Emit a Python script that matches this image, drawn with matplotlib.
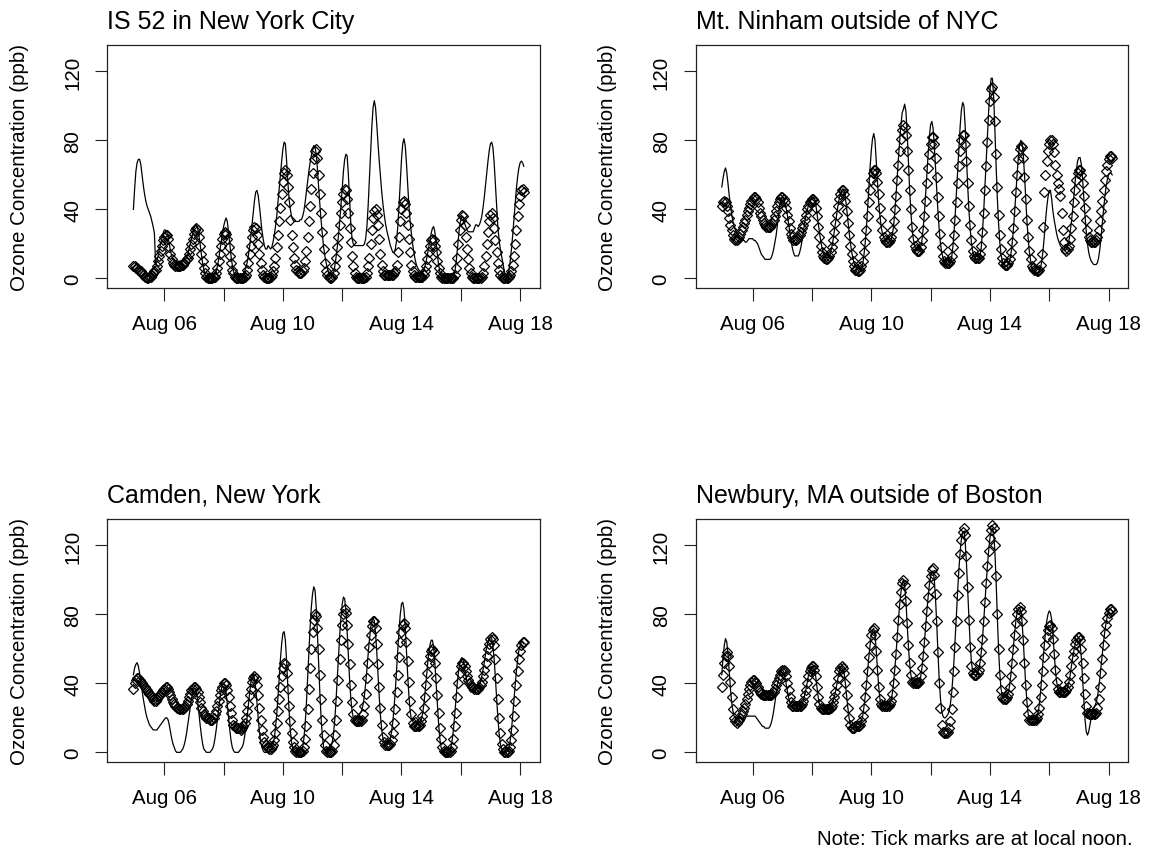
import numpy as np
import pandas as pd
import matplotlib
matplotlib.use("Agg")
import matplotlib.pyplot as plt

plt.rcParams['font.family'] = ['Liberation Sans', 'DejaVu Sans']

# ---------------- data (hourly, starting 2008-08-05 11:00) ----------------
start_time = "2008-08-05 11:00"

titles = ["IS 52 in New York City", "Mt. Ninham outside of NYC",
          "Camden, New York", "Newbury, MA outside of Boston"]

is52_obs = [
    7, 7, 6, 6, 5, 4, 4, 3, 2, 1, 1, 0, 0,
    1, 1, 2, 3, 4, 5, 7, 10, 13, 16, 19, 22, 24, 25, 25, 23, 18, 14, 11, 9, 8, 7, 7, 7,
    7, 7, 8, 8, 9, 10, 11, 12, 14, 17, 20, 23, 26, 28, 29, 28, 24, 19, 14, 10, 6, 3, 1, 0,
    0, 0, 0, 0, 1, 1, 3, 6, 10, 14, 19, 23, 26, 27, 26, 23, 18, 13, 9, 5, 3, 1, 0, 0,
    0, 0, 0, 0, 0, 1, 2, 5, 9, 14, 19, 24, 28, 30, 29, 25, 20, 14, 9, 5, 2, 1, 0, 0,
    0, 0, 1, 2, 4, 7, 12, 18, 25, 33, 41, 49, 56, 61, 63, 60, 53, 44, 34, 25, 18, 12, 8, 5,
    4, 3, 3, 3, 4, 6, 10, 16, 24, 33, 42, 52, 61, 69, 74, 75, 70, 60, 49, 38, 27, 17, 9, 4,
    2, 1, 0, 0, 1, 3, 7, 12, 18, 24, 31, 38, 44, 49, 52, 51, 46, 38, 29, 21, 13, 7, 3, 1,
    0, 0, 0, 0, 0, 0, 0, 1, 3, 7, 12, 20, 28, 35, 39, 40, 37, 31, 23, 14, 8, 4, 2, 2,
    2, 2, 2, 2, 2, 2, 3, 4, 8, 15, 24, 33, 40, 44, 45, 43, 38, 31, 23, 15, 8, 4, 2, 1,
    1, 1, 1, 1, 1, 1, 2, 4, 7, 11, 15, 19, 22, 23, 22, 19, 15, 10, 6, 3, 1, 0, 0, 0,
    0, 0, 0, 0, 0, 0, 0, 2, 6, 12, 20, 28, 34, 37, 36, 31, 24, 17, 11, 6, 3, 1, 0, 0,
    0, 0, 0, 0, 0, 1, 3, 7, 13, 20, 27, 33, 37, 38, 35, 29, 22, 15, 9, 5, 2, 1, 0, 0,
    0, 0, 0, 1, 2, 4, 8, 13, 20, 28, 36, 43, 48, 51, 52, 50]

is52_mod = [
    40, 52, 62, 67, 69, 69, 66, 60, 54, 49, 45, 42, 40,
    38, 36, 33, 30, 26, 8, 10, 13, 17, 20, 23, 26, 28, 28, 27, 24, 20, 16, 13, 11, 10, 10, 10, 10,
    10, 10, 10, 10, 11, 11, 12, 14, 17, 20, 23, 26, 29, 31, 31, 29, 25, 20, 14, 9, 5, 2, 1, 0,
    0, 0, 0, 0, 1, 2, 4, 7, 11, 16, 21, 26, 30, 33, 35, 33, 27, 20, 13, 8, 4, 2, 1, 1,
    1, 1, 1, 2, 3, 4, 6, 9, 13, 18, 24, 31, 38, 45, 50, 51, 48, 42, 35, 28, 23, 19, 17, 17,
    19, 18, 17, 18, 21, 25, 30, 36, 44, 52, 60, 68, 75, 79, 78, 68, 56, 46, 40, 36, 34, 33, 33, 33,
    33, 33, 34, 34, 36, 39, 44, 50, 56, 62, 67, 71, 75, 77, 76, 72, 63, 52, 42, 33, 25, 18, 13, 9,
    6, 3, 1, 0, 1, 3, 7, 12, 18, 25, 33, 42, 52, 62, 69, 72, 71, 60, 45, 31, 23, 20, 19, 19,
    19, 19, 19, 19, 19, 19, 20, 23, 30, 42, 57, 73, 88, 99, 103, 99, 89, 78, 68, 59, 50, 43, 37, 32,
    28, 25, 22, 19, 17, 15, 15, 17, 22, 30, 42, 56, 69, 78, 81, 77, 67, 54, 42, 33, 26, 20, 15, 11,
    8, 6, 5, 4, 4, 4, 5, 7, 10, 14, 18, 22, 26, 29, 30, 27, 21, 14, 8, 4, 2, 1, 0, 0,
    0, 0, 0, 0, 0, 0, 1, 3, 8, 15, 23, 30, 34, 36, 35, 32, 30, 28, 27, 27, 27, 27, 27, 29,
    31, 31, 30, 31, 33, 36, 41, 47, 54, 61, 68, 74, 78, 79, 76, 67, 55, 42, 30, 22, 17, 13, 9, 5,
    2, 0, 1, 5, 10, 17, 25, 34, 43, 52, 59, 64, 67, 68, 67, 65]

ninham_obs = [
    42, 44, 45, 44, 42, 39, 35, 31, 28, 25, 23, 22, 22,
    23, 24, 26, 28, 30, 32, 34, 37, 39, 41, 43, 45, 46, 47, 47, 46, 44, 41, 38, 36, 34, 32, 31, 30,
    30, 30, 30, 31, 32, 34, 36, 39, 42, 44, 46, 47, 47, 46, 44, 41, 37, 33, 29, 26, 24, 22, 22, 22,
    23, 24, 25, 27, 29, 31, 34, 37, 40, 42, 44, 45, 46, 46, 45, 41, 36, 30, 24, 19, 15, 13, 12, 11,
    11, 12, 13, 15, 18, 22, 27, 32, 37, 42, 46, 49, 51, 51, 49, 45, 39, 32, 25, 19, 14, 10, 7, 5,
    5, 4, 4, 5, 7, 10, 15, 21, 28, 36, 44, 51, 57, 61, 63, 63, 61, 56, 49, 41, 34, 28, 24, 22,
    21, 21, 21, 22, 24, 28, 33, 40, 48, 57, 66, 74, 81, 86, 89, 88, 83, 74, 63, 51, 40, 30, 23, 19,
    17, 16, 16, 16, 18, 22, 28, 36, 45, 55, 64, 72, 78, 82, 82, 78, 70, 59, 47, 36, 26, 18, 13, 10,
    9, 9, 9, 9, 10, 13, 18, 25, 34, 44, 55, 65, 74, 80, 83, 83, 78, 68, 55, 42, 31, 22, 16, 13,
    12, 12, 12, 12, 14, 19, 27, 38, 51, 65, 79, 92, 103, 110, 111, 105, 91, 72, 53, 37, 25, 17, 12, 9,
    8, 8, 8, 9, 11, 15, 21, 29, 39, 50, 60, 69, 75, 77, 76, 70, 59, 46, 34, 24, 16, 11, 7, 6,
    5, 5, 4, 4, 5, 8, 14, 30, 50, 60, 68, 74, 78, 80, 80, 78, 73, 66, 60, 55, 52, 48, 38, 28,
    21, 17, 16, 17, 19, 23, 29, 36, 44, 51, 57, 61, 63, 63, 60, 55, 48, 41, 34, 28, 24, 22, 21, 21,
    21, 21, 22, 24, 28, 33, 39, 45, 51, 57, 62, 66, 69, 71, 71, 70]

ninham_mod = [
    53, 58, 62, 64, 61, 55, 48, 42, 37, 33, 30, 28, 26,
    25, 24, 23, 22, 22, 22, 21, 21, 22, 23, 23, 23, 23, 22, 22, 21, 20, 18, 16, 14, 13, 12, 11, 11,
    11, 11, 11, 12, 14, 17, 21, 25, 31, 37, 43, 46, 47, 46, 44, 41, 37, 32, 27, 22, 18, 15, 13, 13,
    13, 13, 15, 18, 22, 27, 32, 36, 39, 42, 44, 46, 47, 47, 46, 43, 38, 32, 27, 22, 18, 15, 13, 12,
    12, 12, 13, 15, 18, 22, 27, 32, 37, 42, 46, 49, 51, 52, 51, 47, 41, 34, 27, 21, 16, 12, 9, 7,
    6, 5, 4, 4, 5, 8, 13, 20, 29, 40, 52, 64, 74, 81, 84, 80, 68, 55, 44, 36, 30, 26, 24, 22,
    22, 21, 21, 21, 22, 25, 30, 38, 48, 59, 70, 80, 89, 96, 98, 101, 97, 85, 68, 52, 39, 29, 23, 19,
    17, 16, 16, 16, 18, 22, 29, 38, 49, 61, 72, 82, 89, 91, 87, 77, 64, 50, 38, 28, 20, 15, 12, 10,
    9, 8, 8, 8, 9, 12, 18, 27, 38, 51, 64, 77, 89, 98, 102, 100, 88, 71, 54, 40, 29, 21, 16, 13,
    12, 11, 11, 11, 13, 18, 27, 39, 53, 68, 83, 97, 109, 116, 116, 106, 87, 66, 47, 32, 21, 14, 10, 8,
    7, 7, 7, 8, 10, 14, 20, 28, 38, 49, 60, 70, 77, 80, 79, 72, 60, 46, 33, 23, 15, 10, 6, 4,
    4, 3, 3, 3, 4, 6, 10, 16, 24, 33, 41, 47, 51, 51, 46, 39, 34, 30, 26, 23, 21, 19, 18, 17,
    17, 16, 17, 19, 22, 27, 33, 40, 48, 56, 63, 68, 70, 70, 66, 58, 47, 36, 27, 20, 15, 12, 10, 9,
    8, 8, 8, 9, 12, 17, 24, 32, 40, 47, 53, 57, 60, 61, 61, 60]

camden_obs = [
    37, 40, 42, 43, 43, 42, 41, 40, 39, 38, 37, 36, 35,
    34, 33, 32, 31, 30, 30, 31, 32, 33, 34, 35, 36, 37, 38, 38, 37, 35, 33, 31, 29, 28, 27, 26, 26,
    25, 25, 25, 25, 26, 27, 28, 30, 32, 34, 36, 37, 38, 38, 37, 35, 32, 29, 26, 24, 22, 21, 20, 20,
    20, 19, 19, 19, 20, 22, 24, 27, 30, 33, 36, 38, 40, 40, 39, 36, 32, 27, 23, 19, 16, 15, 14, 14,
    14, 14, 13, 14, 15, 17, 20, 24, 28, 33, 37, 41, 43, 44, 43, 39, 33, 26, 19, 13, 9, 6, 4, 3,
    3, 2, 2, 3, 4, 7, 11, 17, 24, 31, 38, 44, 49, 52, 51, 46, 37, 27, 18, 11, 6, 3, 1, 0,
    0, 0, 0, 0, 1, 3, 8, 15, 25, 37, 49, 60, 70, 77, 80, 79, 72, 60, 45, 31, 19, 10, 4, 1,
    0, 0, 0, 0, 1, 4, 10, 19, 30, 42, 54, 65, 74, 80, 83, 81, 74, 63, 51, 39, 29, 22, 19, 18,
    18, 18, 18, 18, 19, 22, 27, 34, 43, 52, 61, 68, 73, 76, 76, 72, 63, 51, 38, 26, 16, 9, 6, 4,
    4, 4, 4, 5, 7, 11, 17, 25, 35, 45, 55, 64, 70, 74, 75, 72, 64, 53, 41, 30, 22, 17, 15, 15,
    15, 15, 15, 16, 18, 21, 26, 32, 39, 46, 52, 56, 59, 60, 58, 52, 43, 33, 23, 14, 8, 3, 1, 0,
    0, 0, 0, 0, 1, 3, 8, 15, 23, 32, 40, 46, 50, 52, 52, 50, 47, 44, 42, 40, 39, 38, 38, 37,
    37, 37, 37, 38, 39, 41, 44, 48, 52, 56, 60, 63, 66, 67, 66, 62, 54, 43, 31, 20, 11, 5, 2, 0,
    0, 0, 0, 1, 3, 7, 13, 21, 30, 39, 47, 54, 59, 62, 64, 64]

camden_mod = [
    45, 49, 51, 52, 50, 46, 41, 36, 31, 27, 23, 20, 18,
    16, 15, 14, 13, 13, 13, 13, 14, 15, 16, 17, 18, 19, 20, 20, 19, 16, 12, 8, 5, 3, 1, 0, 0,
    0, 0, 1, 2, 4, 7, 11, 16, 21, 26, 31, 35, 37, 37, 35, 30, 23, 16, 10, 5, 2, 1, 0, 0,
    0, 0, 1, 2, 4, 8, 13, 19, 25, 31, 36, 39, 40, 39, 35, 28, 20, 13, 7, 3, 1, 0, 0, 0,
    0, 1, 2, 3, 5, 9, 14, 20, 27, 34, 40, 44, 45, 43, 37, 29, 20, 12, 6, 3, 1, 0, 0, 0,
    0, 0, 1, 2, 4, 8, 14, 22, 32, 43, 54, 63, 69, 70, 65, 53, 38, 24, 13, 6, 2, 0, 0, 0,
    0, 0, 0, 1, 3, 8, 16, 28, 43, 58, 72, 84, 92, 96, 94, 84, 68, 50, 33, 19, 9, 3, 1, 0,
    0, 0, 1, 3, 6, 11, 19, 30, 43, 56, 68, 78, 86, 90, 89, 82, 70, 56, 42, 31, 24, 20, 19, 19,
    20, 21, 22, 23, 25, 28, 33, 40, 48, 57, 65, 72, 76, 78, 76, 69, 58, 45, 32, 21, 13, 8, 6, 5,
    5, 5, 6, 8, 12, 18, 26, 36, 48, 60, 71, 80, 86, 87, 83, 73, 59, 45, 33, 24, 19, 18, 19, 20,
    20, 19, 18, 18, 19, 22, 27, 34, 42, 50, 57, 62, 65, 65, 61, 52, 40, 28, 17, 8, 3, 1, 0, 0,
    0, 0, 0, 1, 3, 7, 13, 21, 30, 39, 46, 51, 54, 55, 53, 49, 45, 41, 38, 36, 35, 35, 35, 36,
    36, 37, 38, 39, 41, 44, 48, 52, 57, 61, 64, 66, 67, 66, 62, 54, 43, 31, 20, 11, 5, 2, 0, 0,
    0, 0, 1, 3, 7, 13, 21, 30, 39, 47, 54, 59, 62, 64, 64, 63]

newbury_obs = [
    38, 45, 52, 56, 58, 56, 50, 41, 32, 25, 20, 18, 17,
    18, 19, 20, 22, 24, 26, 28, 31, 34, 37, 39, 41, 42, 42, 41, 40, 38, 36, 35, 34, 33, 33, 33, 33,
    33, 33, 33, 33, 34, 35, 37, 39, 41, 43, 45, 47, 48, 48, 47, 44, 40, 36, 32, 29, 27, 27, 27, 27,
    27, 27, 27, 27, 28, 30, 33, 36, 40, 44, 47, 49, 50, 50, 48, 44, 38, 32, 28, 26, 25, 25, 25, 25,
    25, 25, 25, 26, 27, 29, 32, 35, 39, 43, 47, 49, 50, 49, 46, 40, 33, 26, 20, 16, 14, 14, 14, 15,
    15, 15, 15, 16, 18, 21, 26, 32, 39, 47, 55, 62, 68, 71, 72, 68, 59, 48, 38, 31, 28, 27, 27, 27,
    27, 27, 27, 28, 30, 34, 40, 48, 57, 67, 77, 86, 93, 98, 100, 97, 88, 75, 62, 52, 45, 41, 40, 40,
    40, 40, 40, 41, 44, 49, 56, 64, 73, 82, 90, 97, 102, 106, 107, 103, 92, 76, 58, 40, 26, 16, 12, 11,
    11, 11, 12, 14, 18, 25, 35, 47, 61, 76, 91, 104, 115, 123, 128, 130, 126, 114, 96, 77, 61, 50, 46, 45,
    45, 45, 46, 48, 52, 58, 66, 76, 87, 98, 108, 117, 124, 129, 132, 130, 120, 102, 80, 60, 45, 36, 32, 31,
    31, 31, 32, 34, 38, 44, 52, 60, 68, 75, 80, 83, 84, 82, 76, 65, 52, 39, 29, 22, 19, 19, 19, 19,
    19, 19, 20, 22, 26, 32, 39, 47, 55, 62, 67, 71, 73, 74, 72, 66, 57, 48, 41, 37, 35, 35, 35, 35,
    35, 35, 36, 38, 41, 45, 50, 55, 59, 63, 65, 67, 67, 65, 60, 52, 43, 34, 27, 23, 22, 22, 22, 22,
    22, 22, 23, 26, 31, 38, 46, 54, 62, 69, 74, 78, 81, 83, 83, 82]

newbury_mod = [
    45, 55, 62, 66, 64, 57, 47, 37, 29, 24, 21, 20, 20,
    20, 20, 20, 20, 20, 20, 20, 21, 21, 21, 21, 21, 21, 21, 21, 20, 19, 18, 17, 16, 15, 15, 14, 14,
    14, 14, 15, 17, 20, 24, 29, 34, 39, 43, 46, 48, 48, 47, 44, 40, 36, 32, 29, 27, 27, 27, 27, 27,
    27, 27, 27, 27, 28, 30, 33, 36, 40, 44, 47, 49, 50, 50, 48, 44, 38, 32, 28, 26, 25, 25, 25, 25,
    25, 25, 25, 26, 27, 29, 32, 35, 39, 43, 47, 49, 50, 49, 46, 40, 33, 26, 20, 16, 14, 14, 14, 15,
    15, 15, 15, 16, 18, 21, 26, 32, 39, 47, 55, 62, 68, 71, 72, 68, 59, 48, 38, 31, 28, 27, 27, 27,
    27, 27, 27, 28, 30, 34, 40, 48, 57, 67, 77, 86, 93, 98, 100, 97, 88, 75, 62, 52, 45, 41, 40, 40,
    40, 40, 40, 41, 44, 49, 56, 64, 73, 82, 90, 97, 102, 105, 105, 100, 89, 74, 57, 42, 31, 24, 21, 20,
    20, 21, 22, 24, 28, 34, 43, 54, 67, 81, 95, 107, 117, 124, 128, 128, 122, 110, 94, 77, 63, 53, 47, 45,
    45, 45, 46, 48, 52, 58, 66, 76, 87, 98, 108, 117, 124, 128, 130, 127, 117, 100, 79, 60, 46, 37, 33, 32,
    32, 32, 33, 35, 39, 45, 53, 61, 69, 76, 81, 84, 84, 82, 76, 65, 52, 39, 29, 22, 19, 19, 19, 19,
    19, 19, 20, 23, 28, 35, 44, 53, 62, 70, 76, 80, 82, 81, 77, 69, 58, 48, 41, 37, 35, 35, 35, 35,
    35, 35, 36, 38, 41, 45, 50, 55, 59, 63, 65, 66, 66, 63, 55, 43, 30, 19, 12, 10, 12, 16, 20, 23,
    25, 27, 29, 32, 37, 43, 50, 57, 64, 70, 75, 79, 82, 83, 83, 82]

xtick_times = ["2008-08-06 12:00", "2008-08-08 12:00", "2008-08-10 12:00",
               "2008-08-12 12:00", "2008-08-14 12:00", "2008-08-16 12:00",
               "2008-08-18 12:00"]
xtick_labels = ["Aug 06", "", "Aug 10", "", "Aug 14", "", "Aug 18"]
ytick_values = [0, 40, 80, 120]
ylabel = "Ozone Concentration (ppb)"
note = "Note: Tick marks are at local noon."

series = [(is52_obs, is52_mod), (ninham_obs, ninham_mod),
          (camden_obs, camden_mod), (newbury_obs, newbury_mod)]

# ---------------- layout (pixels) ----------------
W, H = 1150, 862
fig = plt.figure(figsize=(W / 100, H / 100), dpi=100)
boxes = [(107.3, 46), (695.7, 46), (107.3, 520), (695.7, 520)]
bw, bh = 432.4, 243

ref = pd.Timestamp("2008-08-06 12:00")
xmin = (ref - pd.Timedelta(days=1.922)).to_pydatetime()
xmax = (ref + pd.Timedelta(days=12.661)).to_pydatetime()
fs = 14.8

for i, (x0, y0) in enumerate(boxes):
    ax = fig.add_axes([x0 / W, 1 - (y0 + bh) / H, bw / W, bh / H])
    obs, mod = series[i]
    t_obs = pd.date_range(start_time, periods=len(obs), freq="h").to_pydatetime()
    t_mod = pd.date_range(start_time, periods=len(mod), freq="h").to_pydatetime()
    ax.plot(t_obs, obs, ls="none", marker="D", ms=5.2, mfc="none",
            mec="black", mew=0.9)
    ax.plot(t_mod, mod, color="black", lw=0.9)
    ax.set_xlim(xmin, xmax)
    ax.set_ylim(-5.6, 135.3)
    ax.set_xticks([pd.Timestamp(s).to_pydatetime() for s in xtick_times])
    ax.set_xticklabels(xtick_labels)
    ax.set_yticks(ytick_values)
    ax.set_yticklabels([str(v) for v in ytick_values], rotation=90, va="center")
    ax.tick_params(axis="both", direction="out", length=9, width=0.8,
                   labelsize=fs, color="#222222")
    ax.tick_params(axis="x", pad=10)
    ax.tick_params(axis="y", pad=9)
    for sp in ax.spines.values():
        sp.set_linewidth(0.9)
        sp.set_color("#222222")
    fig.text(x0 / W, 1 - (y0 - 24) / H, titles[i], fontsize=18,
             ha="left", va="center")
    fig.text((x0 - 88) / W, 1 - (y0 + bh / 2) / H, ylabel, fontsize=fs,
             rotation=90, ha="center", va="center")

fig.text(1133 / W, 1 - 840 / H, note, fontsize=fs, ha="right", va="center")

fig.savefig("out.png", dpi=100)
